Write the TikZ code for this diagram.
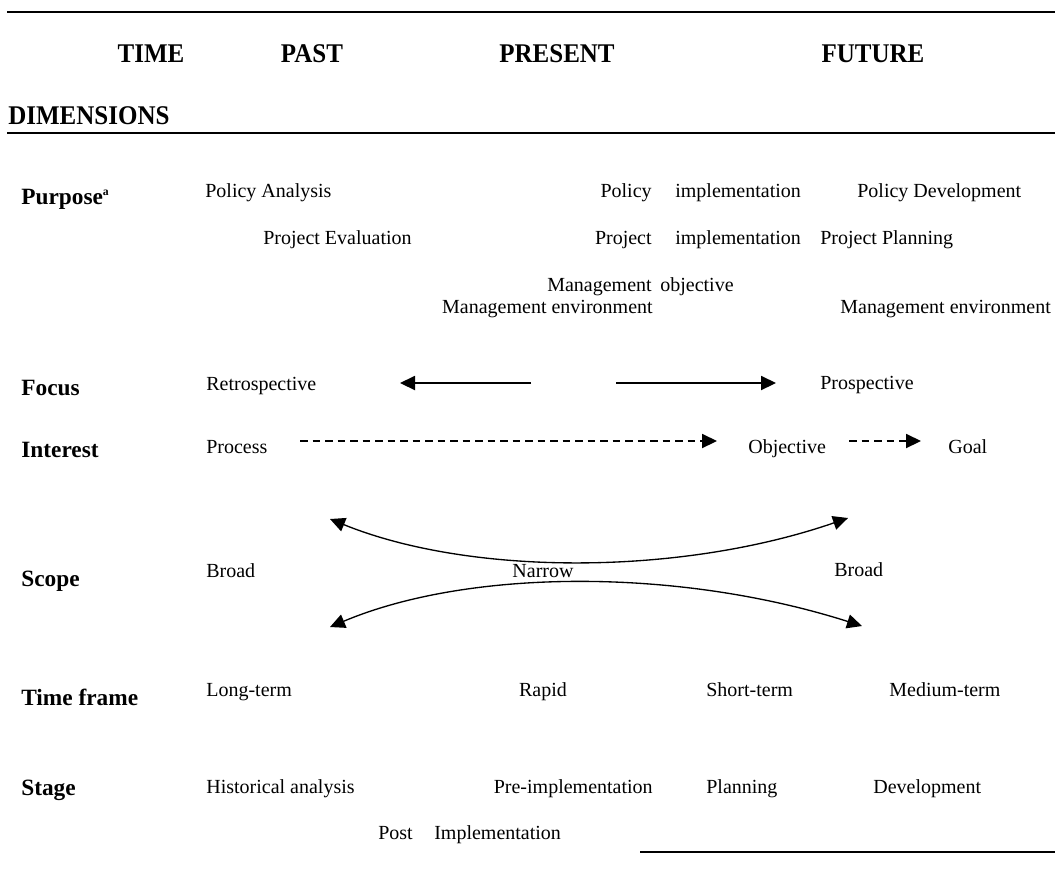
\documentclass[tikz,border=0pt]{standalone}
\usepackage{fontspec}
\setmainfont{Liberation Serif}
\usetikzlibrary{arrows.meta}

\tikzset{
  head/.style={font=\bfseries\fontsize{15}{17}\selectfont, inner sep=0},
  dim/.style={font=\bfseries\fontsize{14}{16}\selectfont, anchor=west, inner sep=0},
  txt/.style={font=\fontsize{12}{14}\selectfont, inner sep=0, text height=0.7em, text depth=0.2em, yshift=-2pt},
  arr/.style={line width=0.8pt, -{Triangle[length=9pt, width=8.5pt]}},
  darr/.style={arr, dash pattern=on 4.5pt off 3pt},
  barr/.style={line width=0.8pt, {Triangle[length=9pt, width=8.5pt]}-{Triangle[length=9pt, width=8.5pt]}}
}
\newcommand{\tall}[1]{\scalebox{1}[1.08]{#1}}

\begin{document}
\begin{tikzpicture}[x=0.6pt, y=-0.6pt]
    \useasboundingbox (0,0) rectangle (1055,878);
    % Rules
    \draw[line width=1.3pt] (7,12) -- (1055,12);
    \draw[line width=1.5pt] (7,133) -- (1055,133);
    \draw[line width=1pt] (640,852) -- (1055,852);
    % Header
    \node[head] (time) at (151,54) {\tall{TIME}};
    \node[head] (past) at (312,54) {\tall{PAST}};
    \node[head] (present) at (557,54) {\tall{PRESENT}};
    \node[head] (future) at (873,54) {\tall{FUTURE}};
    \node[head, anchor=west] (dims) at (8,116) {\tall{DIMENSIONS}};
    % Dimensions
    \node[dim] (purpose) at (21,199) {Purpose\textsuperscript{\fontsize{7}{8}\selectfont a}};
    \node[dim] (focus) at (21,388) {Focus};
    \node[dim] (interest) at (21,450) {Interest};
    \node[dim] (scope) at (21,581) {Scope};
    \node[dim] (timeframe) at (21,697) {Time frame};
    \node[dim] (stage) at (21,790) {Stage};
    % Purpose
    \node[txt, anchor=west] (polan) at (205,190) {Policy Analysis};
    \node[txt, anchor=west] (projev) at (263,237) {Project Evaluation};
    \node[txt, anchor=east] (pol) at (652,190) {Policy};
    \node[txt, anchor=west] (polimp) at (675,190) {implementation};
    \node[txt, anchor=west] (poldev) at (857,190) {Policy Development};
    \node[txt, anchor=east] (proj) at (652,237) {Project};
    \node[txt, anchor=west] (projimp) at (675,237) {implementation};
    \node[txt, anchor=west] (projplan) at (820,237) {Project Planning};
    \node[txt, anchor=east] (man) at (652,284) {Management};
    \node[txt, anchor=west] (manobj) at (660,284) {objective};
    \node[txt, anchor=east] (manenv) at (653,306) {Management environment};
    \node[txt, anchor=west] (manenvf) at (840,306) {Management environment};
    % Focus
    \node[txt, anchor=west] (retro) at (206,383) {Retrospective};
    \node[txt, anchor=west] (prosp) at (820,382) {Prospective};
    \coordinate (fa1) at (531,383);
    \coordinate (fa2) at (400,383);
    \coordinate (fb1) at (616,383);
    \coordinate (fb2) at (776,383);
    \draw[arr] (fa1) -- (fa2);
    \draw[arr] (fb1) -- (fb2);
    % Interest
    \node[txt, anchor=west] (process) at (206,446) {Process};
    \node[txt, anchor=west] (objective) at (748,446) {Objective};
    \node[txt, anchor=west] (goal) at (948,446) {Goal};
    \coordinate (ia) at (300,441);
    \coordinate (ib) at (717,441);
    \coordinate (ic) at (849,441);
    \coordinate (id) at (921,441);
    \draw[darr] (ia) -- (ib);
    \draw[darr] (ic) -- (id);
    % Scope
    \node[txt, anchor=west] (broad) at (206,570) {Broad};
    \node[txt] (narrow) at (543,570) {Narrow};
    \node[txt, anchor=west] (broadf) at (834,569) {Broad};
    \coordinate (su1) at (330,519);
    \coordinate (su2) at (848,518);
    \coordinate (sl1) at (330,627);
    \coordinate (sl2) at (862,626);
    \draw[barr] (su1) .. controls (470,576) and (680,576) .. (su2);
    \draw[barr] (sl1) .. controls (470,568) and (680,568) .. (sl2);
    % Time frame
    \node[txt, anchor=west] (longt) at (206,689) {Long-term};
    \node[txt] (rapid) at (543,689) {Rapid};
    \node[txt, anchor=west] (shortt) at (706,689) {Short-term};
    \node[txt, anchor=west] (medt) at (889,689) {Medium-term};
    % Stage
    \node[txt, anchor=west] (hist) at (206,786) {Historical analysis};
    \node[txt, anchor=east] (preimp) at (653,786) {Pre-implementation};
    \node[txt, anchor=west] (plan) at (706,786) {Planning};
    \node[txt, anchor=west] (dev) at (873,786) {Development};
    \node[txt, anchor=west] (post) at (378,832) {Post};
    \node[txt, anchor=west] (postimp) at (434,832) {Implementation};
\end{tikzpicture}
\end{document}
